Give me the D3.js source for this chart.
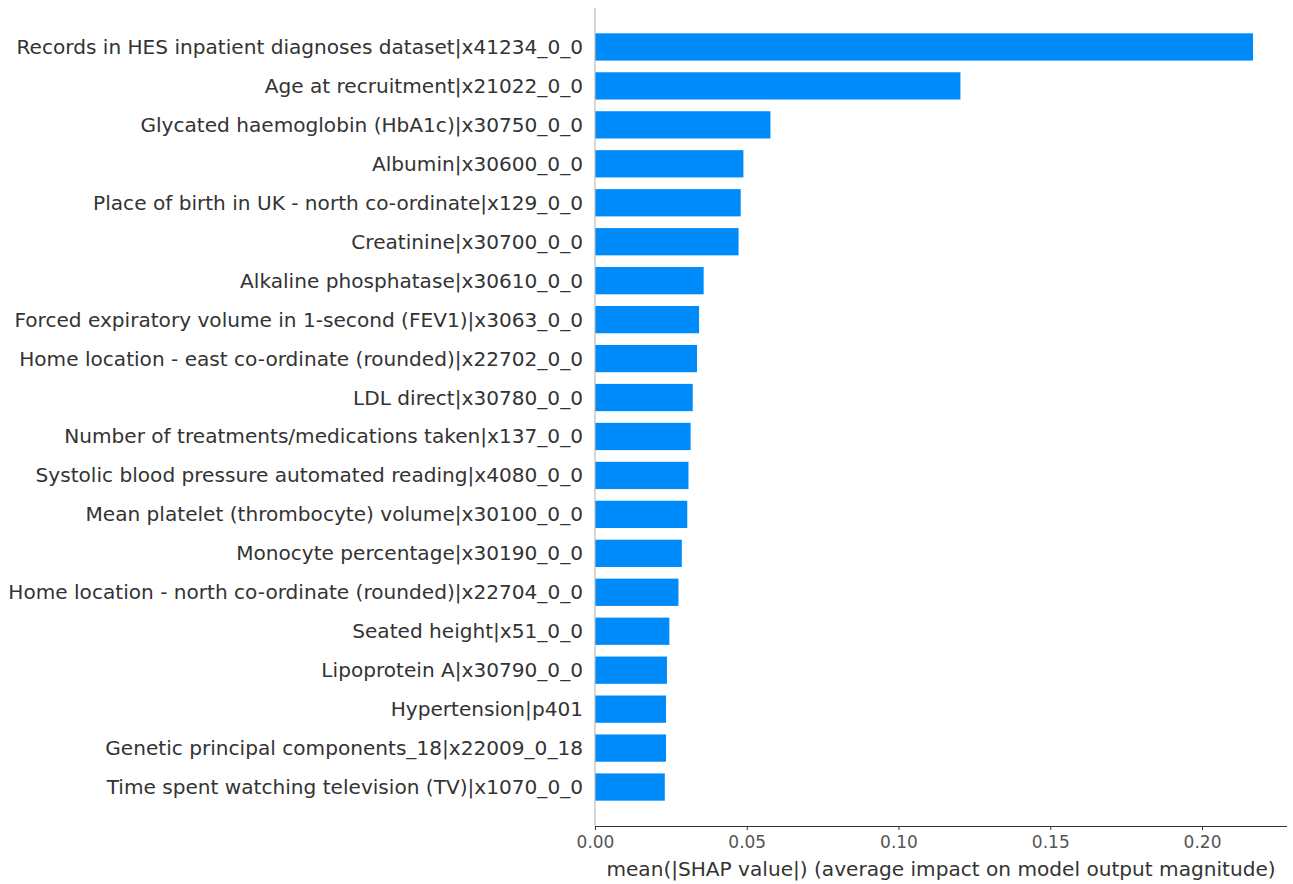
<!DOCTYPE html>
<html>
<head>
<meta charset="utf-8">
<script src="https://cdn.jsdelivr.net/npm/d3@7"></script>
<style>
  html, body { margin: 0; padding: 0; background: #fff; }
  svg { display: block; }
</style>
</head>
<body>
<svg id="chart" width="1293" height="884"></svg>
<script>
const features = [
  "Records in HES inpatient diagnoses dataset|x41234_0_0",
  "Age at recruitment|x21022_0_0",
  "Glycated haemoglobin (HbA1c)|x30750_0_0",
  "Albumin|x30600_0_0",
  "Place of birth in UK - north co-ordinate|x129_0_0",
  "Creatinine|x30700_0_0",
  "Alkaline phosphatase|x30610_0_0",
  "Forced expiratory volume in 1-second (FEV1)|x3063_0_0",
  "Home location - east co-ordinate (rounded)|x22702_0_0",
  "LDL direct|x30780_0_0",
  "Number of treatments/medications taken|x137_0_0",
  "Systolic blood pressure automated reading|x4080_0_0",
  "Mean platelet (thrombocyte) volume|x30100_0_0",
  "Monocyte percentage|x30190_0_0",
  "Home location - north co-ordinate (rounded)|x22704_0_0",
  "Seated height|x51_0_0",
  "Lipoprotein A|x30790_0_0",
  "Hypertension|p401",
  "Genetic principal components_18|x22009_0_18",
  "Time spent watching television (TV)|x1070_0_0"
];
const meanAbsShap = [
  0.2168, 0.1204, 0.0578, 0.0489, 0.0480, 0.0473, 0.0358, 0.0343, 0.0336, 0.0322,
  0.0315, 0.0308, 0.0304, 0.0286, 0.0275, 0.0245, 0.0237, 0.0234, 0.0234, 0.0230
];
const xTicks = [0.00, 0.05, 0.10, 0.15, 0.20];
const xLabel = "mean(|SHAP value|) (average impact on model output magnitude)";

(function () {
  const svg = d3.select("#chart");
  const mLeft = 595, mRight = 1287, mTop = 8, mBottom = 826;
  const fontFamily = "'DejaVu Sans', sans-serif";

  const x = d3.scaleLinear().domain([0, 0.228]).range([mLeft, mRight]);
  const y = d3.scaleBand().domain(features).range([mTop, mBottom])
    .paddingInner(0.3).paddingOuter(0.65);

  // bars
  svg.append("g").selectAll("rect").data(features).join("rect")
    .attr("x", x(0))
    .attr("y", d => y(d))
    .attr("width", (d, i) => x(meanAbsShap[i]) - x(0))
    .attr("height", y.bandwidth())
    .attr("fill", "#008bfb");

  // left spine
  svg.append("line")
    .attr("x1", x(0)).attr("x2", x(0))
    .attr("y1", mTop).attr("y2", mBottom)
    .attr("stroke", "#bbbbbb").attr("stroke-width", 1.2);

  // y labels
  svg.append("g").selectAll("text").data(features).join("text")
    .attr("x", mLeft - 12)
    .attr("y", d => y(d) + y.bandwidth() / 2)
    .attr("text-anchor", "end")
    .attr("dominant-baseline", "central")
    .attr("font-family", fontFamily)
    .attr("font-size", "20.1px")
    .attr("fill", "#333333")
    .text(d => d);

  // x axis
  const xAxis = d3.axisBottom(x).tickValues(xTicks).tickFormat(d3.format(".2f"))
    .tickSize(4).tickPadding(6);
  const gx = svg.append("g").attr("transform", `translate(0,${mBottom})`).call(xAxis);
  gx.select(".domain").attr("stroke", "#333333").attr("stroke-width", 1.2)
    .attr("d", `M${mLeft},0.5H${mRight}`);
  gx.selectAll(".tick line").attr("stroke", "#333333");
  gx.selectAll(".tick text")
    .attr("font-family", fontFamily)
    .attr("font-size", "17px")
    .attr("fill", "#555555");

  svg.append("text")
    .attr("x", (mLeft + mRight) / 2)
    .attr("y", 876)
    .attr("text-anchor", "middle")
    .attr("font-family", fontFamily)
    .attr("font-size", "20.1px")
    .attr("fill", "#333333")
    .text(xLabel);
})();
</script>
</body>
</html>
